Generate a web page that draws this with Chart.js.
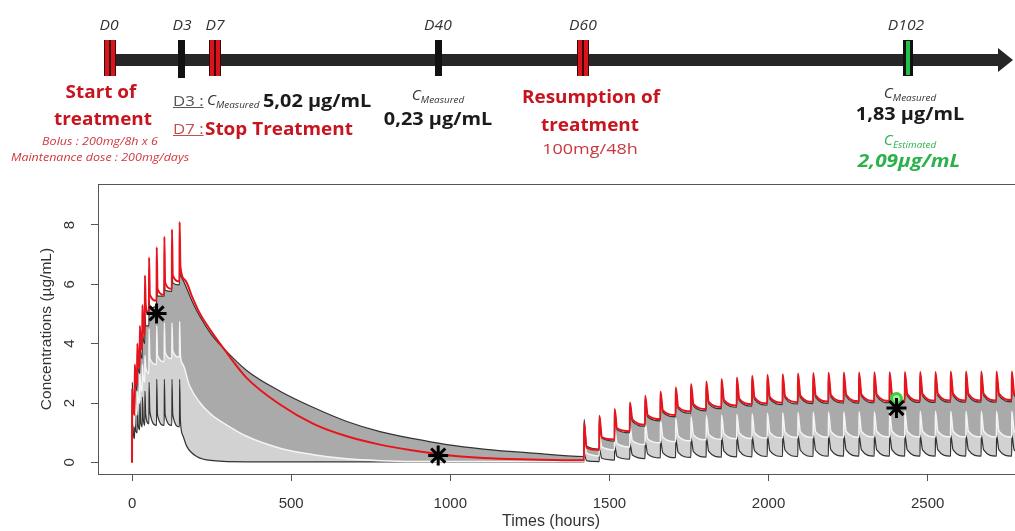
<!DOCTYPE html>
<html>
<head>
<meta charset="utf-8">
<script src="https://cdn.jsdelivr.net/npm/chart.js@4.4.1/dist/chart.umd.min.js"></script>
<style>
  html, body { margin: 0; padding: 0; background: #fff; overflow: hidden; }
  #wrap { position: relative; width: 1015px; height: 531px; overflow: hidden; }
  #chart { position: absolute; left: 0; top: 0; }
  .bar { position: absolute; left: 112px; top: 54px; width: 888px; height: 12px; background: #262626; }
  .head { position: absolute; left: 998px; top: 48px; width: 0; height: 0;
    border-top: 12px solid transparent; border-bottom: 12px solid transparent; border-left: 15px solid #262626; }
  .mk { position: absolute; top: 40px; height: 36px; }
  .mk.black { width: 7px; background: #111; }
  .mk.red { width: 12px; background: #3a0808; }
  .mk.red::before, .mk.red::after { content: ''; position: absolute; top: 0; bottom: 0; width: 4px; background: #d8141c; }
  .mk.red::before { left: 1px; }
  .mk.red::after { right: 1px; }
  .mk.green { width: 10px; background: #111; }
  .mk.green::before { content: ''; position: absolute; left: 3px; top: 1px; bottom: 1px; width: 4px; background: #22c04a; }
  .t { position: absolute; white-space: nowrap; font-family: 'Open Sans', sans-serif; line-height: 1;
    transform: translate(-50%, -50%) scaleX(var(--sx, 1)); }
  .l { position: absolute; white-space: nowrap; font-family: 'Open Sans', sans-serif; line-height: 1;
    transform-origin: 0 50%; transform: translateY(-50%) scaleX(var(--sx, 1)); }
  .day { font-style: italic; font-size: 14px; color: #333; top: 25px; --sx: 1.12; }
  .redb { color: #c8141e; font-weight: bold; font-size: 18px; --sx: 1.05; }
  .small { color: #d0383e; font-style: italic; font-size: 10.5px; --sx: 1.19; }
  .val { color: #1a1a1a; font-weight: bold; font-size: 17px; --sx: 1.17; }
  .c { font-style: italic; font-size: 14px; color: #333; --sx: 1.1; }
  .c sub { font-size: 9px; vertical-align: -3px; }
  .green { color: #2bb24c; }
  .u { text-decoration: underline; font-size: 14px; --sx: 1.2; }
  .axt { position: absolute; white-space: nowrap; transform: translate(-50%, -50%); font-family: 'Liberation Sans', Arial, sans-serif; font-size: 16px; color: #333; }
</style>
</head>
<body>
<div id="wrap">
  <canvas id="chart" width="1040" height="531"></canvas>

  <div class="bar"></div>
  <div class="head"></div>
  <div class="mk red" style="left:104px"></div>
  <div class="mk black" style="left:178px; height:38px"></div>
  <div class="mk red" style="left:209px"></div>
  <div class="mk black" style="left:435px"></div>
  <div class="mk red" style="left:577px"></div>
  <div class="mk green" style="left:903px"></div>

  <div class="t day" style="left:109px">D0</div>
  <div class="t day" style="left:182px">D3</div>
  <div class="t day" style="left:215px">D7</div>
  <div class="t day" style="left:438px">D40</div>
  <div class="t day" style="left:583px">D60</div>
  <div class="t day" style="left:906px">D102</div>

  <div class="t redb" style="left:101px; top:91px">Start of</div>
  <div class="t redb" style="left:103px; top:118px">treatment</div>
  <div class="t small" style="left:100px; top:141px">Bolus : 200mg/8h x 6</div>
  <div class="t small" style="left:100px; top:157px">Maintenance dose : 200mg/days</div>

  <div class="l u" style="left:173px; top:101px; color:#555">D3 :</div>
  <div class="l c" style="left:207px; top:101px">C<sub>Measured</sub></div>
  <div class="l val" style="left:263px; top:100px">5,02 µg/mL</div>
  <div class="l u" style="left:173px; top:129px; color:#c05050">D7 :</div>
  <div class="l redb" style="left:205px; top:128px">Stop Treatment</div>

  <div class="t c" style="left:438px; top:96px">C<sub>Measured</sub></div>
  <div class="t val" style="left:438px; top:118px">0,23 µg/mL</div>

  <div class="t redb" style="left:591px; top:96px">Resumption of</div>
  <div class="t redb" style="left:590px; top:124px">treatment</div>
  <div class="t" style="left:590px; top:148px; color:#c8383e; font-size:15px; --sx:1.2">100mg/48h</div>

  <div class="t c" style="left:910px; top:94px">C<sub>Measured</sub></div>
  <div class="t val" style="left:910px; top:113px">1,83 µg/mL</div>
  <div class="t c green" style="left:910px; top:141px">C<sub>Estimated</sub></div>
  <div class="t val green" style="left:909px; top:160px; font-style:italic; --sx:1.22">2,09µg/mL</div>

  <div class="axt" style="left:551px; top:521px">Times (hours)</div>
</div>

<script>
const xTicks = [0, 500, 1000, 1500, 2000, 2500];
const yTicks = [0, 2, 4, 6, 8];

// loading (200mg/8h x 6) then maintenance (200mg/day), hours
const loadDoses = [0, 8, 16, 24, 32, 40, 53, 77, 101, 125, 149];
// resumption 100mg/48h, hours
const resumeDoses = [1420, 1468, 1516, 1564, 1612, 1660, 1708, 1756, 1804, 1852, 1900, 1948, 1996, 2044, 2092,
  2140, 2188, 2236, 2284, 2332, 2380, 2428, 2476, 2524, 2572, 2620, 2668, 2716, 2764];
const resumeInterval = 48;

// individual prediction (red)
const redLoadTrough = [0, 1.6, 2.6, 3.2, 3.8, 4.3, 5.0, 5.45, 5.65, 5.85, 6.1];
const redLoadPeak = [2.5, 3.3, 4.0, 4.6, 5.3, 6.3, 6.9, 7.25, 7.6, 7.85, 8.1];
const redLoadShoulder = [1.9, 2.9, 3.5, 4.1, 4.7, 5.3, 5.65, 5.85, 6.05, 6.3, 6.6];
const redDecayTime = [166, 190, 214, 250, 287, 360, 465, 570, 675, 779, 884, 968, 1104, 1250];
const redDecay = [6.15, 5.55, 5.0, 4.4, 3.85, 2.85, 1.95, 1.3, 0.88, 0.6, 0.4, 0.27, 0.15, 0.1];
const redResumeTrough = [0.07, 0.42, 0.77, 1.05, 1.27, 1.46, 1.6, 1.72, 1.8, 1.87, 1.92, 1.96, 1.99, 2.01, 2.03,
  2.04, 2.05, 2.06, 2.06, 2.07, 2.07, 2.08, 2.08, 2.08, 2.09, 2.09, 2.09, 2.09, 2.1, 2.1];
const redResumePeak = [1.33, 1.57, 1.8, 2.02, 2.25, 2.39, 2.53, 2.64, 2.73, 2.81, 2.86, 2.92, 2.95, 2.97, 3.0,
  3.01, 3.02, 3.03, 3.03, 3.04, 3.04, 3.05, 3.05, 3.05, 3.06, 3.06, 3.06, 3.06, 3.06];
const redResumeShoulder = [0.5, 0.85, 1.15, 1.45, 1.6, 1.75, 1.87, 1.96, 2.04, 2.1, 2.14, 2.18, 2.2, 2.23, 2.25,
  2.26, 2.27, 2.28, 2.29, 2.29, 2.3, 2.3, 2.3, 2.31, 2.31, 2.31, 2.31, 2.32, 2.32];

// upper percentile (black)
const upLoadTrough = [0, 1.8, 2.4, 3.0, 3.5, 4.0, 4.6, 5.3, 5.6, 5.76, 5.98];
const upLoadPeak = [2.7, 3.2, 3.7, 4.2, 4.6, 5.0, 5.5, 5.93, 6.15, 6.4, 6.7];
const upLoadShoulder = [2.2, 2.7, 3.2, 3.7, 4.2, 4.6, 5.2, 5.6, 5.8, 6.05, 6.35];
const upDecayTime = [160, 190, 214, 250, 287, 360, 465, 570, 675, 779, 884, 989, 1104, 1250];
const upDecay = [6.15, 5.4, 4.9, 4.3, 3.85, 3.1, 2.4, 1.85, 1.38, 1.04, 0.8, 0.6, 0.45, 0.32];
const upResumeTrough = [0.2, 0.45, 0.72, 1.0, 1.22, 1.4, 1.54, 1.66, 1.74, 1.81, 1.86, 1.9, 1.93, 1.95, 1.97,
  1.98, 1.99, 2.0, 2.0, 2.01, 2.01, 2.02, 2.02, 2.02, 2.03, 2.03, 2.03, 2.03, 2.04, 2.04];
const upResumePeak = [1.45, 1.55, 1.76, 1.97, 2.18, 2.33, 2.46, 2.57, 2.66, 2.74, 2.8, 2.85, 2.88, 2.9, 2.93,
  2.94, 2.95, 2.96, 2.96, 2.97, 2.97, 2.98, 2.98, 2.98, 2.99, 2.99, 2.99, 2.99, 2.99];
const upResumeShoulder = [0.55, 0.82, 1.1, 1.38, 1.54, 1.69, 1.81, 1.9, 1.98, 2.04, 2.08, 2.12, 2.14, 2.17, 2.19,
  2.2, 2.21, 2.22, 2.23, 2.23, 2.24, 2.24, 2.24, 2.25, 2.25, 2.25, 2.25, 2.26, 2.26];

// median (white)
const medLoadTrough = [0, 1.2, 1.6, 2.0, 2.4, 2.7, 3.0, 3.3, 3.4, 3.5, 3.55];
const medLoadPeak = [2.5, 2.2, 2.6, 3.0, 3.3, 3.6, 4.5, 4.6, 4.7, 4.7, 4.75];
const medLoadShoulder = [1.6, 1.8, 2.2, 2.6, 2.9, 3.2, 3.5, 3.6, 3.7, 3.75, 3.6];
const medDecayTime = [160, 180, 214, 250, 287, 360, 465, 570, 675, 780, 940, 1250];
const medDecay = [3.3, 2.6, 2.0, 1.6, 1.33, 0.88, 0.48, 0.26, 0.12, 0.06, 0.03, 0.03];
const medResumeTrough = [0.03, 0.22, 0.42, 0.52, 0.6, 0.66, 0.7, 0.73, 0.76, 0.78, 0.8, 0.81, 0.82, 0.83, 0.84,
  0.84, 0.85, 0.85, 0.85, 0.86, 0.86, 0.86, 0.86, 0.86, 0.86, 0.86, 0.86, 0.86, 0.86, 0.86];
const medResumePeak = [0.8, 0.98, 1.12, 1.24, 1.34, 1.42, 1.48, 1.53, 1.57, 1.6, 1.62, 1.64, 1.66, 1.67, 1.68,
  1.69, 1.7, 1.7, 1.71, 1.71, 1.72, 1.72, 1.72, 1.72, 1.72, 1.72, 1.72, 1.72, 1.72];
const medResumeShoulder = [0.32, 0.52, 0.64, 0.73, 0.8, 0.85, 0.89, 0.92, 0.95, 0.97, 0.99, 1.0, 1.01, 1.02, 1.03,
  1.03, 1.04, 1.04, 1.04, 1.05, 1.05, 1.05, 1.05, 1.05, 1.05, 1.05, 1.05, 1.05, 1.05];

// lower percentile (black)
const lowLoadTrough = [0, 0.8, 1.0, 1.1, 1.2, 1.25, 1.3, 1.25, 1.25, 1.25, 1.2];
const lowLoadPeak = [2.4, 1.7, 1.9, 2.1, 2.2, 2.4, 2.7, 2.8, 2.8, 2.8, 2.8];
const lowLoadShoulder = [1.2, 1.1, 1.3, 1.4, 1.5, 1.6, 1.7, 1.6, 1.6, 1.6, 1.4];
const lowDecayTime = [160, 172, 203, 255, 360, 1250];
const lowDecay = [0.9, 0.54, 0.2, 0.06, 0.02, 0.02];
const lowResumeTrough = [0.02, 0.03, 0.08, 0.11, 0.13, 0.15, 0.16, 0.17, 0.18, 0.18, 0.19, 0.19, 0.2, 0.2, 0.2,
  0.2, 0.21, 0.21, 0.21, 0.21, 0.21, 0.21, 0.21, 0.21, 0.21, 0.21, 0.21, 0.21, 0.21, 0.21];
const lowResumePeak = [0.3, 0.45, 0.55, 0.63, 0.7, 0.75, 0.79, 0.82, 0.85, 0.87, 0.88, 0.89, 0.9, 0.9, 0.91,
  0.91, 0.91, 0.92, 0.92, 0.92, 0.92, 0.92, 0.92, 0.92, 0.92, 0.92, 0.92, 0.92, 0.92];
const lowResumeShoulder = [0.06, 0.14, 0.2, 0.25, 0.29, 0.32, 0.34, 0.36, 0.37, 0.38, 0.39, 0.4, 0.4, 0.41, 0.41,
  0.41, 0.42, 0.42, 0.42, 0.42, 0.42, 0.42, 0.42, 0.42, 0.42, 0.42, 0.42, 0.42, 0.42];

// observed concentrations (asterisks) and the estimate (green circle)
const measuredTime = [77, 962, 2402];
const measuredConc = [5.02, 0.23, 1.83];
const estimatedTime = [2402];
const estimatedConc = [2.15];

const doseSegment = (doses, troughs, peaks, shoulders, lag, interval) => {
  const pts = [];
  doses.forEach((t, i) => {
    pts.push({ x: t, y: troughs[i] });
    pts.push({ x: t + 0.5, y: peaks[i] });
    pts.push({ x: t + lag, y: shoulders[i] });
  });
  if (troughs.length > doses.length) {
    pts.push({ x: doses.at(-1) + interval, y: troughs.at(-1) });
  }
  return pts;
};

const profile = (load, decayTime, decay, resume) => [
  ...doseSegment(loadDoses, load[0], load[1], load[2], 3),
  ...decayTime.map((t, i) => ({ x: t, y: decay[i] })),
  ...doseSegment(resumeDoses, resume[0], resume[1], resume[2], 8, resumeInterval)
];

const redData = profile([redLoadTrough, redLoadPeak, redLoadShoulder], redDecayTime, redDecay,
  [redResumeTrough, redResumePeak, redResumeShoulder]);
const upData = profile([upLoadTrough, upLoadPeak, upLoadShoulder], upDecayTime, upDecay,
  [upResumeTrough, upResumePeak, upResumeShoulder]);
const medData = profile([medLoadTrough, medLoadPeak, medLoadShoulder], medDecayTime, medDecay,
  [medResumeTrough, medResumePeak, medResumeShoulder]);
const lowData = profile([lowLoadTrough, lowLoadPeak, lowLoadShoulder], lowDecayTime, lowDecay,
  [lowResumeTrough, lowResumePeak, lowResumeShoulder]);

const axisFont = { family: "'Liberation Sans', Arial, sans-serif", size: 15 };

const frame = {
  id: 'frame',
  afterDraw: (chart) => {
    const { ctx, chartArea: a } = chart;
    const yScale = chart.scales.y;
    ctx.save();
    ctx.strokeStyle = '#555';
    ctx.lineWidth = 1;
    ctx.strokeRect(a.left + 0.5, a.top + 0.5, a.right - a.left, a.bottom - a.top);
    // R style y labels, parallel to the axis
    ctx.fillStyle = '#333';
    ctx.font = `${axisFont.size}px ${axisFont.family}`;
    ctx.textAlign = 'center';
    ctx.textBaseline = 'middle';
    yTicks.forEach((v) => {
      ctx.save();
      ctx.translate(a.left - 28, yScale.getPixelForValue(v));
      ctx.rotate(-Math.PI / 2);
      ctx.fillText(String(v), 0, 0);
      ctx.restore();
    });
    ctx.restore();
  }
};

const lineSet = (data, color, width, fill, bg) => ({
  type: 'line',
  data,
  borderColor: color,
  borderWidth: width,
  backgroundColor: bg || 'transparent',
  fill: fill,
  pointRadius: 0,
  cubicInterpolationMode: 'monotone'
});

new Chart(document.getElementById('chart'), {
  type: 'line',
  data: {
    datasets: [
      {
        type: 'scatter',
        data: measuredTime.map((t, i) => ({ x: t, y: measuredConc[i] })),
        pointStyle: 'star',
        pointRadius: 10,
        borderColor: '#000',
        borderWidth: 3
      },
      {
        type: 'scatter',
        data: estimatedTime.map((t, i) => ({ x: t, y: estimatedConc[i] })),
        pointStyle: 'circle',
        pointRadius: 5,
        borderColor: '#3ad03a',
        backgroundColor: '#a6eba6',
        borderWidth: 3
      },
      lineSet(redData, '#e8141c', 2, false),
      lineSet(upData, '#333', 1.2, false),
      lineSet(medData, '#f4f4f4', 1.5, { target: 3 }, '#aaaaaa'),
      lineSet(lowData, '#333', 1.2, { target: 4 }, '#d2d2d2')
    ]
  },
  options: {
    responsive: false,
    animation: false,
    devicePixelRatio: 1,
    layout: { autoPadding: false, padding: { top: 184, left: 0, right: 0, bottom: 0 } },
    plugins: { legend: { display: false }, tooltip: { enabled: false } },
    scales: {
      x: {
        type: 'linear',
        min: -107,
        max: 2853,
        afterFit: (s) => {
          s.height = 57;
          s.paddingLeft = 0;
          s.paddingRight = 0;
        },
        afterBuildTicks: (s) => { s.ticks = xTicks.map((v) => ({ value: v })); },
        grid: { drawOnChartArea: false, drawTicks: true, tickLength: 7, color: '#555' },
        border: { display: false },
        ticks: {
          color: '#333',
          font: axisFont,
          padding: 14,
          autoSkip: false,
          maxRotation: 0,
          callback: (v) => String(v)
        }
      },
      y: {
        min: -0.39,
        max: 9.38,
        afterFit: (s) => {
          s.width = 98;
          s.paddingTop = 0;
          s.paddingBottom = 0;
        },
        afterBuildTicks: (s) => { s.ticks = yTicks.map((v) => ({ value: v })); },
        grid: { drawOnChartArea: false, drawTicks: true, tickLength: 7, color: '#555' },
        border: { display: false },
        ticks: { display: false },
        title: {
          display: true,
          text: 'Concentrations (µg/mL)',
          color: '#333',
          font: { family: axisFont.family, size: 15.5 },
          padding: { top: 37, bottom: 0 }
        }
      }
    }
  },
  plugins: [frame]
});
</script>
</body>
</html>
